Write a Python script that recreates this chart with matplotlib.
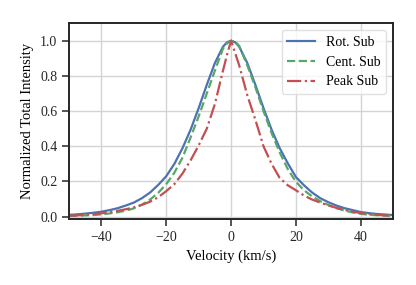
"""
Normalized line profiles for three subtraction methods
"""

# ──────────────────────────────────────────────
# 1. Imports
# ──────────────────────────────────────────────
import numpy as np
import matplotlib.pyplot as plt

# ──────────────────────────────────────────────
# 2. Data
# ──────────────────────────────────────────────
velocity = [-50, -47.5, -45, -42.5, -40, -37.5, -35, -32.5, -30, -27.5,
            -25, -22.5, -20, -17.5, -15, -12.5, -10, -7.5, -5, -2.5,
            -1.25, 0, 1.25,
            2.5, 5, 7.5, 10, 12.5, 15, 17.5, 20, 22.5, 25,
            27.5, 30, 32.5, 35, 37.5, 40, 42.5, 45, 47.5, 50]

rot_sub = [0.010, 0.013, 0.017, 0.022, 0.028, 0.037, 0.048, 0.063, 0.080, 0.105,
           0.137, 0.180, 0.230, 0.300, 0.389, 0.494, 0.617, 0.749, 0.873, 0.966,
           0.991, 1.000, 0.991,
           0.966, 0.873, 0.749, 0.617, 0.494, 0.389, 0.303, 0.225, 0.178, 0.137,
           0.105, 0.082, 0.063, 0.048, 0.037, 0.026, 0.020, 0.015, 0.012, 0.009]

cent_sub = [0.004, 0.005, 0.007, 0.009, 0.013, 0.018, 0.025, 0.034, 0.047, 0.068,
            0.097, 0.135, 0.185, 0.250, 0.335, 0.450, 0.570, 0.700, 0.830, 0.955,
            0.985, 0.998, 0.995,
            0.970, 0.860, 0.735, 0.600, 0.475, 0.365, 0.270, 0.198, 0.150, 0.115,
            0.088, 0.066, 0.048, 0.035, 0.024, 0.016, 0.011, 0.008, 0.006, 0.004]

peak_sub = [0.005, 0.007, 0.010, 0.014, 0.019, 0.025, 0.033, 0.042, 0.053, 0.067,
            0.085, 0.110, 0.145, 0.185, 0.245, 0.320, 0.405, 0.500, 0.640, 0.830,
            0.920, 1.000, 0.930,
            0.860, 0.690, 0.550, 0.400, 0.300, 0.220, 0.178, 0.150, 0.120, 0.097,
            0.080, 0.064, 0.050, 0.038, 0.028, 0.020, 0.014, 0.010, 0.007, 0.005]

series = [
    ("Rot. Sub",  rot_sub,  "#4C72B0", "-"),
    ("Cent. Sub", cent_sub, "#55A868", "--"),
    ("Peak Sub",  peak_sub, "#C44E52", "-."),
]

# ──────────────────────────────────────────────
# 3. Style
# ──────────────────────────────────────────────
plt.rcParams["font.family"] = ["Liberation Serif", "DejaVu Serif"]
plt.rcParams["font.size"] = 10
plt.rcParams["axes.unicode_minus"] = True

# ──────────────────────────────────────────────
# 4. Plot
# ──────────────────────────────────────────────
fig = plt.figure(figsize=(4.16, 2.85), dpi=100)
ax = fig.add_axes([0.166, 0.230, 0.779, 0.689])

for label, vals, color, ls in series:
    ax.plot(velocity, vals, color=color, ls=ls, lw=1.6, label=label)

ax.set_xlim(-50, 50)
ax.set_ylim(-0.016, 1.1)
ax.set_xticks(np.arange(-40, 41, 20))
ax.set_yticks(np.arange(0, 1.01, 0.2))
ax.set_xlabel("Velocity (km/s)", fontsize=10.5)
ax.set_ylabel("Normalized Total Intensity", fontsize=10.5)

ax.grid(True, color="0.83", lw=1.0)
ax.set_axisbelow(True)
for sp in ax.spines.values():
    sp.set_color("0.15")
    sp.set_linewidth(1.4)
ax.tick_params(direction="out", length=5, width=1.1, color="0.15",
               labelsize=10, labelcolor="0.15")

ax.legend(loc="upper right", fontsize=10, frameon=True, fancybox=True,
          framealpha=0.8, edgecolor="0.85")

plt.savefig("out.png", dpi=100)
